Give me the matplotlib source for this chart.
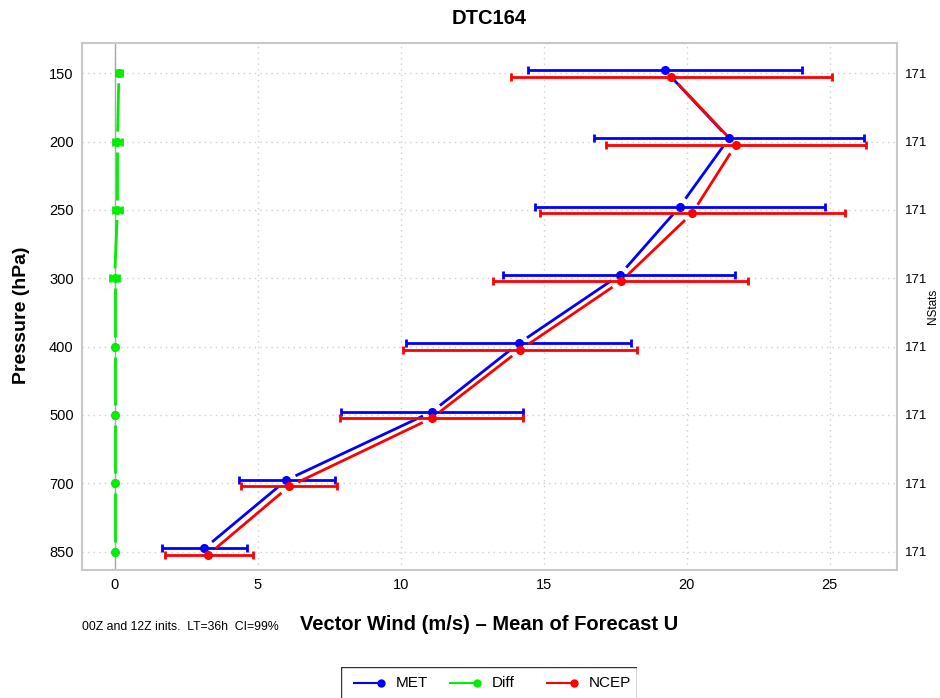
import numpy as np
import matplotlib
matplotlib.use("Agg")
import matplotlib.pyplot as plt
from matplotlib.patches import Rectangle

plt.rcParams['font.family'] = ['Liberation Sans', 'DejaVu Sans']

# Data
levels = ["150", "200", "250", "300", "400", "500", "700", "850"]
nstats = ["171"] * 8

met = [19.24, 21.48, 19.76, 17.66, 14.13, 11.10, 6.01, 3.14]
met_lo = [14.45, 16.76, 14.70, 13.59, 10.19, 7.92, 4.34, 1.66]
met_hi = [24.04, 26.22, 24.83, 21.71, 18.05, 14.27, 7.69, 4.63]

ncep = [19.46, 21.72, 20.20, 17.70, 14.18, 11.09, 6.10, 3.27]
ncep_lo = [13.85, 17.19, 14.87, 13.23, 10.07, 7.87, 4.41, 1.75]
ncep_hi = [25.09, 26.28, 25.54, 22.15, 18.26, 14.29, 7.78, 4.83]

diff = [0.15, 0.10, 0.10, 0.00, 0.00, 0.00, 0.00, 0.00]
diff_lo = [0.05, -0.05, -0.05, -0.15, -0.02, -0.02, -0.02, -0.02]
diff_hi = [0.25, 0.25, 0.25, 0.15, 0.02, 0.02, 0.02, 0.02]

pos = np.arange(len(levels))

fig = plt.figure(figsize=(9.4, 6.98), dpi=100)
ax = fig.add_axes([82/940, 1-570/698, (897-82)/940, (570-43)/698])
ax.set_xlim(-1.14, 27.36)
ax.set_ylim(7.27, -0.444)


def gapped(ax, x, y, color, gap=10, lw=2):
    # R-style type="b" line: segments stop short of each point
    pts = ax.transData.transform(np.column_stack([x, y]))
    inv = ax.transData.inverted()
    for p0, p1 in zip(pts[:-1], pts[1:]):
        d = p1 - p0
        L = np.hypot(*d)
        if L <= 2 * gap:
            continue
        u = d / L
        seg = inv.transform(np.array([p0 + u * gap, p1 - u * gap]))
        ax.plot(seg[:, 0], seg[:, 1], color=color, lw=lw, solid_capstyle='butt', zorder=3)


# grid
for xv in range(0, 30, 5):
    ax.axvline(xv, color='#d0d0d0', lw=1, ls=(0, (1, 3)), zorder=0)
for p in pos:
    ax.axhline(p, color='#d0d0d0', lw=1, ls=(0, (1, 3)), zorder=0)
ax.axvline(0, color='#a8a8a8', lw=1.0, zorder=1)

series = [
    (met, met_lo, met_hi, '#0000ff', -0.047),
    (diff, diff_lo, diff_hi, '#00ee00', 0.0),
    (ncep, ncep_lo, ncep_hi, '#ff0000', 0.047),
]
for vals, lo, hi, col, off in series:
    yy = pos + off
    vals = np.array(vals)
    xerr = [vals - np.array(lo), np.array(hi) - vals]
    ax.errorbar(vals, yy, xerr=xerr, fmt='none', ecolor=col, elinewidth=2,
                capsize=3, capthick=2, zorder=3)
    ax.plot(vals, yy, 'o', color=col, ms=5.5, zorder=4)
    gapped(ax, vals, yy, col)

ax.set_yticks(pos)
ax.set_yticklabels(levels, fontsize=10.5)
ax.set_xticks(range(0, 30, 5))
ax.set_xticklabels([str(v) for v in range(0, 30, 5)], fontsize=10.5)
ax.tick_params(length=0, pad=6)
for s in ax.spines.values():
    s.set_color('#c8c8c8')
    s.set_linewidth(1.5)

ax2 = ax.twinx()
ax2.set_ylim(ax.get_ylim())
ax2.set_yticks(pos)
ax2.set_yticklabels(nstats, fontsize=9.5)
ax2.tick_params(length=0, pad=6)
for s in ax2.spines.values():
    s.set_visible(False)

fig.text(933/940, 1-306/698, "NStats", ha='center', va='center', rotation=90, fontsize=8.5)
fig.text(489/940, 1-18/698, "DTC164", ha='center', va='center', fontsize=14.5, fontweight='bold')
fig.text(22/940, 1-315/698, "Pressure (hPa)", ha='center', va='center', rotation=90,
         fontsize=14, fontweight='bold')
fig.text(489/940, 1-625/698, "Vector Wind (m/s) \u2013 Mean of Forecast U", ha='center', va='center',
         fontsize=14.5, fontweight='bold')
fig.text(82/940, 1-627/698, "00Z and 12Z inits.  LT=36h  CI=99%", ha='left', va='center', fontsize=8.8)

# legend box (drawn by hand to get the R-style line-then-dot key)
lax = fig.add_axes([341/940, -0.02, (637-341)/940, (698-667)/698 + 0.02])
lax.set_xlim(341, 637)
lax.set_ylim(698 + 14, 667)
lax.axis('off')
lax.add_patch(Rectangle((341, 667), 296, 60, fill=False, ec='#333333', lw=1))
legend_items = [("MET", '#0000ff', 354), ("Diff", '#00ee00', 450), ("NCEP", '#ff0000', 547)]
for name, col, x0 in legend_items:
    lax.plot([x0, x0 + 27], [683, 683], color=col, lw=1.5)
    lax.plot([x0 + 27], [683], 'o', color=col, ms=5)
    lax.text(x0 + 42, 683, name, ha='left', va='center', fontsize=11)

fig.savefig("out.png", dpi=100)
